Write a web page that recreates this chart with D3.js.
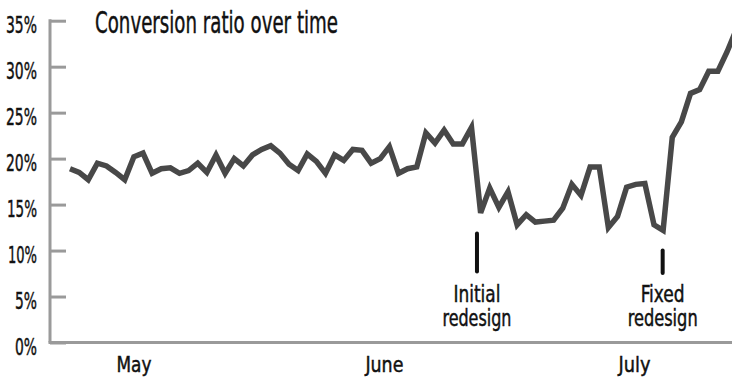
<!DOCTYPE html>
<html>
<head>
<meta charset="utf-8">
<script src="https://cdn.jsdelivr.net/npm/d3@7"></script>
<style>
  html, body { margin: 0; padding: 0; background: #fff; }
  svg { display: block; }
  text { font-family: "Liberation Sans Narrow", "DejaVu Sans Condensed", "Arial Narrow", sans-serif; fill: #111; stroke: #111; stroke-width: 0.45px; }
</style>
</head>
<body>
<svg id="chart" width="732" height="381"></svg>
<script>
// ---- data (conversion ratio in %, one point per step) ----
const conversion = [
  18.9, 18.5, 17.7, 19.5, 19.2, 18.5, 17.7, 20.2, 20.6, 18.4,
  18.9, 19.0, 18.4, 18.7, 19.5, 18.5, 20.4, 18.4, 20.0, 19.2,
  20.4, 21.0, 21.4, 20.6, 19.4, 18.7, 20.5, 19.7, 18.4, 20.4,
  19.8, 21.0, 20.9, 19.5, 20.0, 21.3, 18.4, 18.9, 19.1, 22.8,
  21.7, 23.1, 21.6, 21.6, 23.4, 14.1, 16.8, 14.7, 16.4, 12.8,
  13.9, 13.1, 13.2, 13.3, 14.6, 17.2, 16.0, 19.1, 19.1, 12.5,
  13.7, 16.9, 17.2, 17.3, 12.8, 12.2, 22.3, 24.0, 27.1, 27.5,
  29.5, 29.5, 31.6, 34.0
];
const yTicks = [0, 5, 10, 15, 20, 25, 30, 35];
const months = ["May", "June", "July"];
const monthIndex = [6.95, 34.4, 61.8];
const annotationLabels = [["Initial", "redesign"], ["Fixed", "redesign"]];
const annotationIndex = [44.6, 64.95];
const title = "Conversion ratio over time";

// ---- layout ----
const svg = d3.select("#chart");
const x = d3.scaleLinear().domain([0, 72]).range([70, 727]);
const y = d3.scaleLinear().domain([0, 35]).range([342.5, 20.7]);
const axisColor = "#9a9a9a";

// y axis
const yAxis = d3.axisLeft(y).tickValues(yTicks).tickSize(-16).tickPadding(13)
  .tickFormat(d => d + "%");
const yg = svg.append("g").attr("transform", "translate(50,0)").call(yAxis);
yg.select(".domain").remove();
yg.selectAll(".tick line").attr("stroke", axisColor).attr("stroke-width", 3);
const yLabelW = {0: 22, 5: 22, 10: 29, 15: 30, 20: 31, 25: 31, 30: 31, 35: 31};
yg.selectAll(".tick text")
  .attr("dy", null).attr("y", 12)
  .style("font-size", "23px").style("font-family", null).attr("fill", "#111")
  .attr("textLength", d => yLabelW[d]).attr("lengthAdjust", "spacingAndGlyphs");

// axis lines
svg.append("line").attr("x1", 50).attr("x2", 50).attr("y1", y(35) - 1.5).attr("y2", y(0))
  .attr("stroke", axisColor).attr("stroke-width", 3);
svg.append("line").attr("x1", 48.5).attr("x2", 732).attr("y1", y(0)).attr("y2", y(0))
  .attr("stroke", axisColor).attr("stroke-width", 3);

// x axis month labels
const xAxis = d3.axisBottom(x).tickValues(monthIndex).tickSize(0).tickPadding(0)
  .tickFormat((d, i) => months[i]);
const xg = svg.append("g").attr("transform", "translate(0," + y(0) + ")").call(xAxis);
xg.select(".domain").remove();
const monthW = [35, 38, 32];
xg.selectAll(".tick text")
  .attr("dy", null).attr("y", 29.5)
  .style("font-size", "22px").style("font-family", null).attr("fill", "#111")
  .attr("textLength", (d, i) => monthW[i]).attr("lengthAdjust", "spacingAndGlyphs");

// series line
const line = d3.line().x((d, i) => x(i)).y(d => y(d));
svg.append("path").datum(conversion)
  .attr("d", line)
  .attr("fill", "none")
  .attr("stroke", "#484848")
  .attr("stroke-width", 5.5)
  .attr("stroke-linejoin", "miter");

// annotations
const markTop = [233.5, 250.5];
const markBottom = [271.5, 273];
const annW = [[47, 69], [44, 70]];
annotationIndex.forEach((idx, k) => {
  const ax = x(idx);
  svg.append("line").attr("x1", ax).attr("x2", ax)
    .attr("y1", markTop[k]).attr("y2", markBottom[k])
    .attr("stroke", "#111").attr("stroke-width", 4).attr("stroke-linecap", "round");
  annotationLabels[k].forEach((t, j) => {
    svg.append("text").attr("x", ax).attr("y", 302 + j * 23.5)
      .attr("text-anchor", "middle").style("font-size", "23px")
      .attr("textLength", annW[k][j]).attr("lengthAdjust", "spacingAndGlyphs")
      .text(t);
  });
});

// title
svg.append("text").attr("x", 95).attr("y", 32.5)
  .style("font-size", "30px")
  .attr("textLength", 243).attr("lengthAdjust", "spacingAndGlyphs")
  .text(title);
</script>
</body>
</html>
